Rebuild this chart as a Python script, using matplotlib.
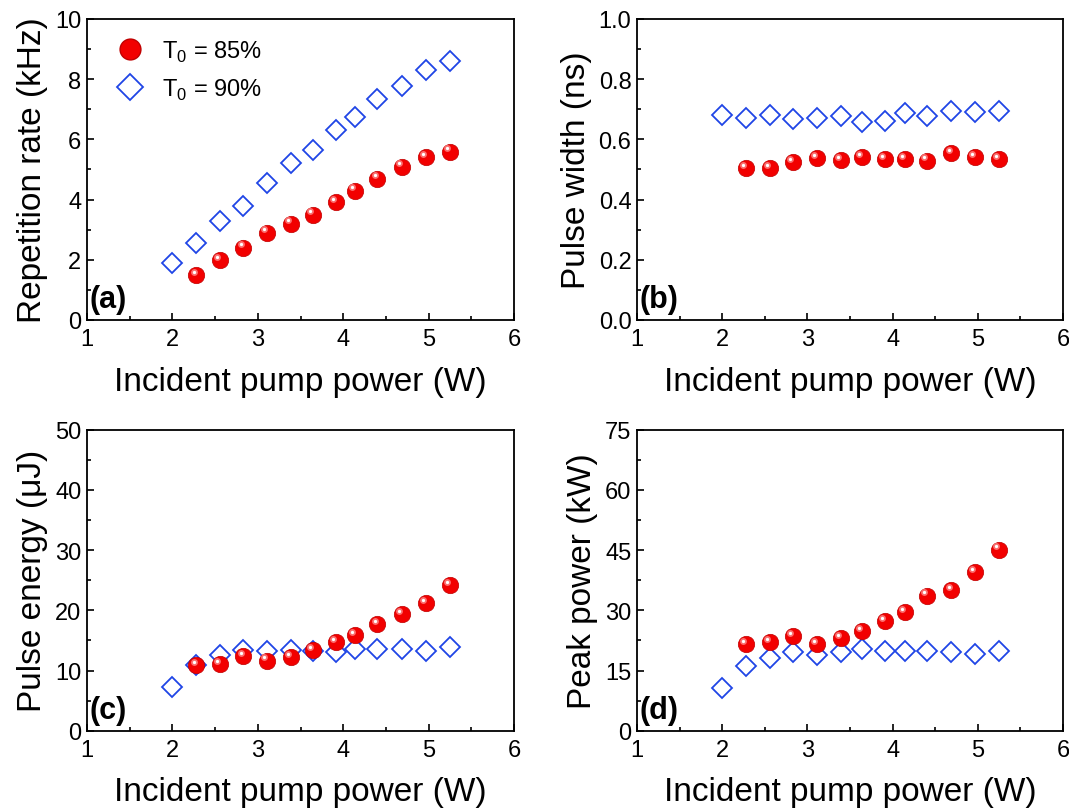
import matplotlib
matplotlib.use("Agg")
import matplotlib.pyplot as plt
from matplotlib.ticker import AutoMinorLocator, MultipleLocator
from matplotlib.transforms import offset_copy

plt.rcParams["font.family"] = ["Liberation Sans", "DejaVu Sans"]
plt.rcParams["mathtext.fontset"] = "custom"
plt.rcParams["mathtext.rm"] = "Liberation Sans"

# pump power (W)
power_90 = [2.0, 2.28, 2.56, 2.83, 3.11, 3.39, 3.64, 3.91, 4.14, 4.40, 4.69, 4.97, 5.25]
power_85 = power_90[1:]

rep_85 = [1.50, 1.99, 2.40, 2.90, 3.20, 3.50, 3.91, 4.30, 4.70, 5.09, 5.40, 5.59]
rep_90 = [1.89, 2.56, 3.29, 3.80, 4.54, 5.22, 5.66, 6.31, 6.75, 7.35, 7.78, 8.31, 8.61]

width_85 = [0.504, 0.504, 0.524, 0.538, 0.532, 0.540, 0.535, 0.534, 0.529, 0.554, 0.540, 0.534]
width_90 = [0.682, 0.671, 0.682, 0.668, 0.671, 0.679, 0.657, 0.660, 0.688, 0.679, 0.693, 0.690, 0.695]

energy_85 = [10.96, 11.08, 12.36, 11.63, 12.24, 13.45, 14.68, 15.90, 17.77, 19.39, 21.21, 24.15]
energy_90 = [7.21, 10.96, 12.62, 13.45, 13.18, 13.45, 13.18, 13.01, 13.57, 13.57, 13.57, 13.18, 13.84]

peak_85 = [21.53, 22.03, 23.52, 21.53, 23.10, 24.77, 27.26, 29.58, 33.64, 35.06, 39.47, 45.10]
peak_90 = [10.57, 16.20, 18.04, 19.54, 18.86, 19.54, 20.36, 19.79, 19.79, 19.79, 19.54, 19.11, 19.79]

RED = "#f20000"
BLUE = "#1f45e6"

panels = [
    (rep_85, rep_90, "Repetition rate (kHz)", (0, 10), 2, "(a)", [0.0814, 0.6047, 0.3995, 0.3707]),
    (width_85, width_90, "Pulse width (ns)", (0, 1.0), 0.2, "(b)", [0.5959, 0.6047, 0.3985, 0.3707]),
    (energy_85, energy_90, "Pulse energy (\u03bcJ)", (0, 50), 10, "(c)", [0.0814, 0.0988, 0.3995, 0.3707]),
    (peak_85, peak_90, "Peak power (kW)", (0, 75), 15, "(d)", [0.5959, 0.0988, 0.3985, 0.3707]),
]


def sphere(ax, x, y, ms=11.8):
    ax.plot(x, y, "o", ms=ms, color=RED, mec="#c00000", mew=0.5, zorder=3)
    hl = offset_copy(ax.transData, fig=ax.figure, x=-ms * 0.17, y=ms * 0.2, units="points")
    ax.plot(x, y, "o", ms=ms * 0.42, color="#ff8a8a", mec="none", alpha=0.8, transform=hl, zorder=4)
    ax.plot(x, y, "o", ms=ms * 0.2, color="white", mec="none", transform=hl, zorder=5)


fig = plt.figure(figsize=(10.69, 8.12), dpi=100)
for y85, y90, ylabel, ylim, step, tag, rect in panels:
    ax = fig.add_axes(rect)
    ax.plot(power_90, y90, "D", ms=9.7, mfc="none", mec=BLUE, mew=1.3, zorder=3)
    sphere(ax, power_85, y85)
    ax.set_xlim(1, 6)
    ax.set_ylim(*ylim)
    ax.xaxis.set_major_locator(MultipleLocator(1))
    ax.yaxis.set_major_locator(MultipleLocator(step))
    ax.xaxis.set_minor_locator(AutoMinorLocator(2))
    ax.yaxis.set_minor_locator(AutoMinorLocator(2))
    ax.tick_params(which="both", direction="in", top=False, right=False, labelsize=17, width=1.2)
    ax.tick_params(which="major", length=5)
    ax.tick_params(axis="x", which="major", pad=6)
    ax.tick_params(axis="y", which="major", pad=4)
    ax.tick_params(which="minor", length=3)
    if step < 1:
        ax.yaxis.set_major_formatter(plt.FormatStrFormatter("%.1f"))
    for s in ax.spines.values():
        s.set_linewidth(1.3)
    ax.set_xlabel("Incident pump power (W)", fontsize=24, labelpad=11)
    ax.set_ylabel(ylabel, fontsize=24, labelpad=5)
    ax.text(0.005, 0.02, tag, transform=ax.transAxes, fontsize=22, fontweight="bold", ha="left", va="bottom")
    if tag == "(a)":
        sp = ax.plot([], [], "o", ms=15, color=RED, mec="#c00000")[0]
        dm = ax.plot([], [], "D", ms=13.5, mfc="none", mec=BLUE, mew=1.3)[0]
        ax.legend([sp, dm], ["T$_\\mathregular{0}$ = 85%", "T$_\\mathregular{0}$ = 90%"], loc="upper left",
                  frameon=False, fontsize=17, handletextpad=0.6, borderaxespad=0.3, labelspacing=0.55,
                  handlelength=1.5, bbox_to_anchor=(0.02, 0.99))

fig.savefig("out.png", dpi=100, facecolor="white")
